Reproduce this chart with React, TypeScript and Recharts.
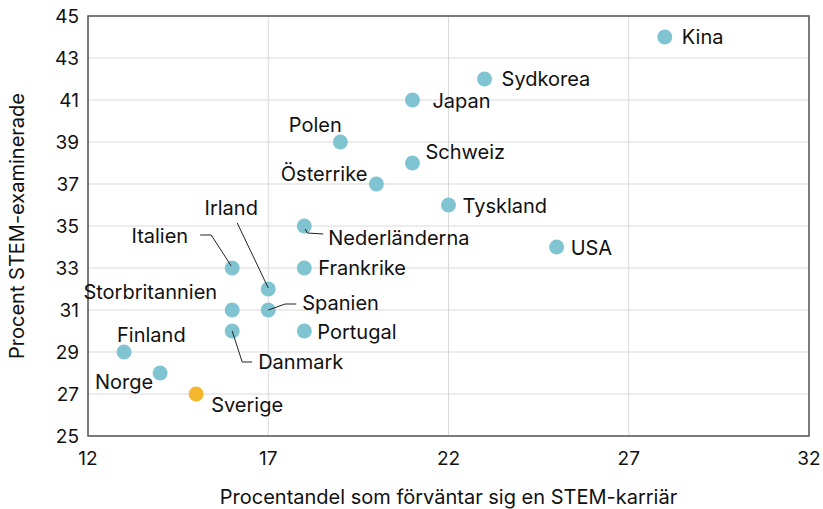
import React from 'react';
import { ScatterChart, Scatter, XAxis, YAxis, CartesianGrid, ReferenceArea } from 'recharts';

const countries = ['Kina', 'Sydkorea', 'Japan', 'Polen', 'Schweiz', 'Österrike', 'Tyskland', 'Nederländerna', 'USA', 'Italien', 'Frankrike', 'Irland', 'Storbritannien', 'Spanien', 'Danmark', 'Portugal', 'Finland', 'Norge', 'Sverige'];
const expectStemCareer = [28, 23, 21, 19, 21, 20, 22, 18, 25, 16, 18, 17, 16, 17, 16, 18, 13, 14, 15];
const stemGraduates = [44, 42, 41, 39, 38, 37, 36, 35, 34, 33, 33, 32, 31, 31, 30, 30, 29, 28, 27];
const highlighted = ['Sverige'];
const xTicks = [12, 17, 22, 27, 32];
const yTicks = [25, 27, 29, 31, 33, 35, 37, 39, 41, 43, 45];
const xTitle = 'Procentandel som förväntar sig en STEM-karriär';
const yTitle = 'Procent STEM-examinerade';

const data = countries.map((name, i) => ({
  name,
  x: expectStemCareer[i],
  y: stemGraduates[i],
  highlight: highlighted.includes(name),
}));

const FONT = 'Inter, "Noto Sans", sans-serif';
const FS = 20;
const TICK_FS = 19;
const TEAL = '#80c4d2';
const ORANGE = '#f4b62c';
const TEXT = '#111';

type Lay = { dx: number; dy: number; anchor?: 'start' | 'middle' | 'end'; leader?: number[][] };
const labelLayout: Record<string, Lay> = {
  Kina: { dx: 17, dy: 0 },
  Sydkorea: { dx: 17, dy: 0 },
  Japan: { dx: 20, dy: 1 },
  Polen: { dx: -25, dy: -17, anchor: 'middle' },
  Schweiz: { dx: 13, dy: -11 },
  'Österrike': { dx: -9, dy: -10, anchor: 'end' },
  Tyskland: { dx: 14, dy: 1 },
  USA: { dx: 14, dy: 1 },
  'Nederländerna': { dx: 24, dy: 12, leader: [[1, 3], [3, 7], [19, 8]] },
  Frankrike: { dx: 14, dy: 0 },
  Italien: { dx: -44, dy: -32, anchor: 'end', leader: [[-32, -33], [-21, -33], [-1, -2]] },
  Irland: { dx: -37, dy: -81, anchor: 'middle', leader: [[-31, -66], [0, -1]] },
  Storbritannien: { dx: -15, dy: -18, anchor: 'end' },
  Spanien: { dx: 34, dy: -7, leader: [[0, 0], [17, -6], [28, -6]] },
  Portugal: { dx: 13, dy: 1 },
  Danmark: { dx: 26, dy: 31, leader: [[0, 0], [10, 31], [20, 31]] },
  Finland: { dx: -7, dy: -17 },
  Norge: { dx: -7, dy: 9, anchor: 'end' },
  Sverige: { dx: 15, dy: 11 },
};

const Dot = (props: any) => {
  const { cx, cy, payload } = props;
  if (cx == null || cy == null) return null;
  const lay = labelLayout[payload.name] || { dx: 14, dy: 0 };
  return (
    <g>
      <circle cx={cx} cy={cy} r={7.5} fill={payload.highlight ? ORANGE : TEAL} />
      {lay.leader && (
        <polyline
          points={lay.leader.map(([a, b]) => `${cx + a},${cy + b}`).join(' ')}
          fill="none"
          stroke="#222"
          strokeWidth={1}
        />
      )}
      <text
        x={cx + lay.dx}
        y={cy + lay.dy + 7}
        textAnchor={lay.anchor || 'start'}
        fontSize={FS}
        fontFamily={FONT}
        fill={TEXT}
      >
        {payload.name}
      </text>
    </g>
  );
};

export default function App() {
  return (
    <div style={{ position: 'absolute', left: 0, top: 0, background: '#fff' }}>
      <ScatterChart width={823} height={509} margin={{ top: 16, right: 14, bottom: 0, left: 0 }}>
        <CartesianGrid stroke="#d9d9d9" strokeWidth={1} />
        <XAxis
          type="number"
          dataKey="x"
          domain={[12, 32]}
          ticks={xTicks}
          height={73}
          axisLine={false}
          tickLine={false}
          tickSize={0}
          tickMargin={16}
          tick={{ fontSize: TICK_FS, fontFamily: FONT, fill: TEXT }}
          label={{
            content: ({ viewBox }: any) => (
              <text
                x={88 + (809 - 88) / 2}
                y={viewBox.y + 68}
                textAnchor="middle"
                fontSize={FS}
                fontFamily={FONT}
                fill={TEXT}
              >
                {xTitle}
              </text>
            ),
          }}
        />
        <YAxis
          type="number"
          dataKey="y"
          domain={[25, 45]}
          ticks={yTicks}
          width={88}
          axisLine={false}
          tickLine={false}
          tickSize={0}
          tickMargin={9}
          tick={{ fontSize: TICK_FS, fontFamily: FONT, fill: TEXT }}
          label={{
            content: ({ viewBox }: any) => {
              const x = viewBox.x + 17;
              const y = viewBox.y + viewBox.height / 2;
              return (
                <text
                  x={x}
                  y={y}
                  transform={`rotate(-90, ${x}, ${y})`}
                  textAnchor="middle"
                  dominantBaseline="central"
                  fontSize={FS}
                  fontFamily={FONT}
                  fill={TEXT}
                >
                  {yTitle}
                </text>
              );
            },
          }}
        />
        <ReferenceArea x1={12} x2={32} y1={25} y2={45} fill="none" stroke="#555" strokeWidth={1.5} ifOverflow="visible" />
        <Scatter data={data} shape={Dot} isAnimationActive={false} />
      </ScatterChart>
    </div>
  );
}
